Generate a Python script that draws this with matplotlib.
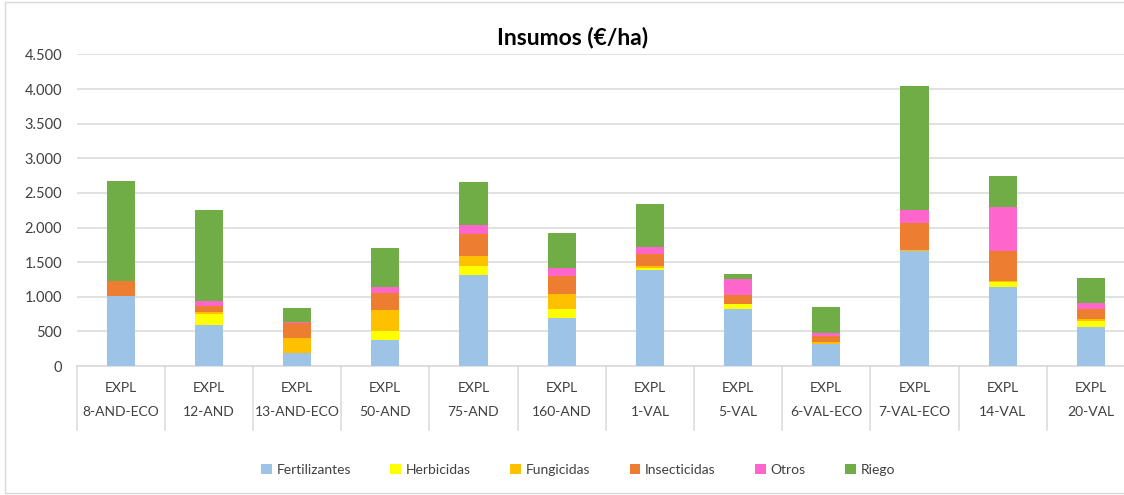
import matplotlib
matplotlib.use("Agg")
import matplotlib.pyplot as plt
from matplotlib.patches import Rectangle
from matplotlib.ticker import FuncFormatter, MultipleLocator
import numpy as np

plt.rcParams['font.family'] = ['Lato', 'DejaVu Sans']

categories = ["8-AND-ECO", "12-AND", "13-AND-ECO", "50-AND", "75-AND", "160-AND",
              "1-VAL", "5-VAL", "6-VAL-ECO", "7-VAL-ECO", "14-VAL", "20-VAL"]
group_label = "EXPL"

fertilizantes = [1015, 592, 183, 375, 1309, 698, 1386, 823, 313, 1665, 1141, 563]
herbicidas    = [0, 163, 0, 130, 135, 130, 34, 77, 0, 0, 77, 92]
fungicidas    = [0, 29, 221, 299, 144, 212, 24, 0, 34, 5, 5, 19]
insecticidas  = [212, 78, 212, 245, 313, 260, 175, 125, 91, 400, 442, 144]
otros         = [0, 77, 24, 92, 130, 110, 104, 231, 39, 188, 635, 96]
riego         = [1450, 1314, 193, 563, 621, 515, 616, 68, 375, 1790, 444, 357]

series_names = ["Fertilizantes", "Herbicidas", "Fungicidas", "Insecticidas", "Otros", "Riego"]
series = [fertilizantes, herbicidas, fungicidas, insecticidas, otros, riego]
colors = ["#9DC3E6", "#FFFF00", "#FFC000", "#ED7D31", "#FF66CC", "#70AD47"]

W, H = 1124, 495
fig = plt.figure(figsize=(W / 100, H / 100), dpi=100)

# outer chart border
fig.patches.append(Rectangle((5 / W, 2 / H), 1.2, 1 - 4 / H, transform=fig.transFigure,
                             fill=False, edgecolor="#d9d9d9", linewidth=1.0))

left_px, right_px, top_px, bot_px = 76.6, 1135.0, 54.4, 366.0
ax = fig.add_axes([left_px / W, 1 - bot_px / H, (right_px - left_px) / W, (bot_px - top_px) / H])

x = np.arange(len(categories))
bottom = np.zeros(len(categories))
handles = []
for name, vals, c in zip(series_names, series, colors):
    v = np.array(vals, dtype=float)
    b = ax.bar(x, v, width=0.32, bottom=bottom, color=c, linewidth=0, label=name, zorder=3)
    handles.append(b)
    bottom += v

ax.set_xlim(-0.5, len(categories) - 0.5)
ax.set_ylim(0, 4500)
ax.yaxis.set_major_locator(MultipleLocator(500))
ax.yaxis.set_major_formatter(FuncFormatter(lambda v, p: f"{int(v):,}".replace(",", ".")))
ax.grid(axis="y", color="#d9d9d9", linewidth=1.1, zorder=0)
ax.tick_params(axis="y", length=0, pad=10.5, labelsize=10.5, labelcolor="#404040")
ax.tick_params(axis="x", length=0, labelbottom=False)
for s in ["top", "right", "left"]:
    ax.spines[s].set_visible(False)
ax.spines["bottom"].set_color("#d9d9d9")
ax.spines["bottom"].set_linewidth(1.1)

ax_h = bot_px - top_px
tr = ax.get_xaxis_transform()
for i, name in enumerate(categories):
    ax.text(i, -22 / ax_h, group_label, transform=tr, ha="center", va="center",
            fontsize=10, color="#404040")
    ax.text(i, -46 / ax_h, name, transform=tr, ha="center", va="center",
            fontsize=10, color="#404040")
for i in range(len(categories) + 1):
    ax.plot([i - 0.5, i - 0.5], [0, -64 / ax_h], transform=tr, color="#d9d9d9",
            linewidth=1.1, clip_on=False)

fig.text(573 / W, 1 - 38 / H, "Insumos (€/ha)", ha="center", va="center",
         fontsize=16.5, fontweight="bold", color="#000000")

leg = fig.legend(handles=handles, labels=series_names, loc="center", ncol=6,
                 bbox_to_anchor=(578 / W, 1 - 470 / H), frameon=False,
                 handlelength=0.75, handleheight=0.75, handletextpad=0.35,
                 columnspacing=2.85, fontsize=10)
for t in leg.get_texts():
    t.set_color("#404040")

fig.savefig("out.png", dpi=100)
